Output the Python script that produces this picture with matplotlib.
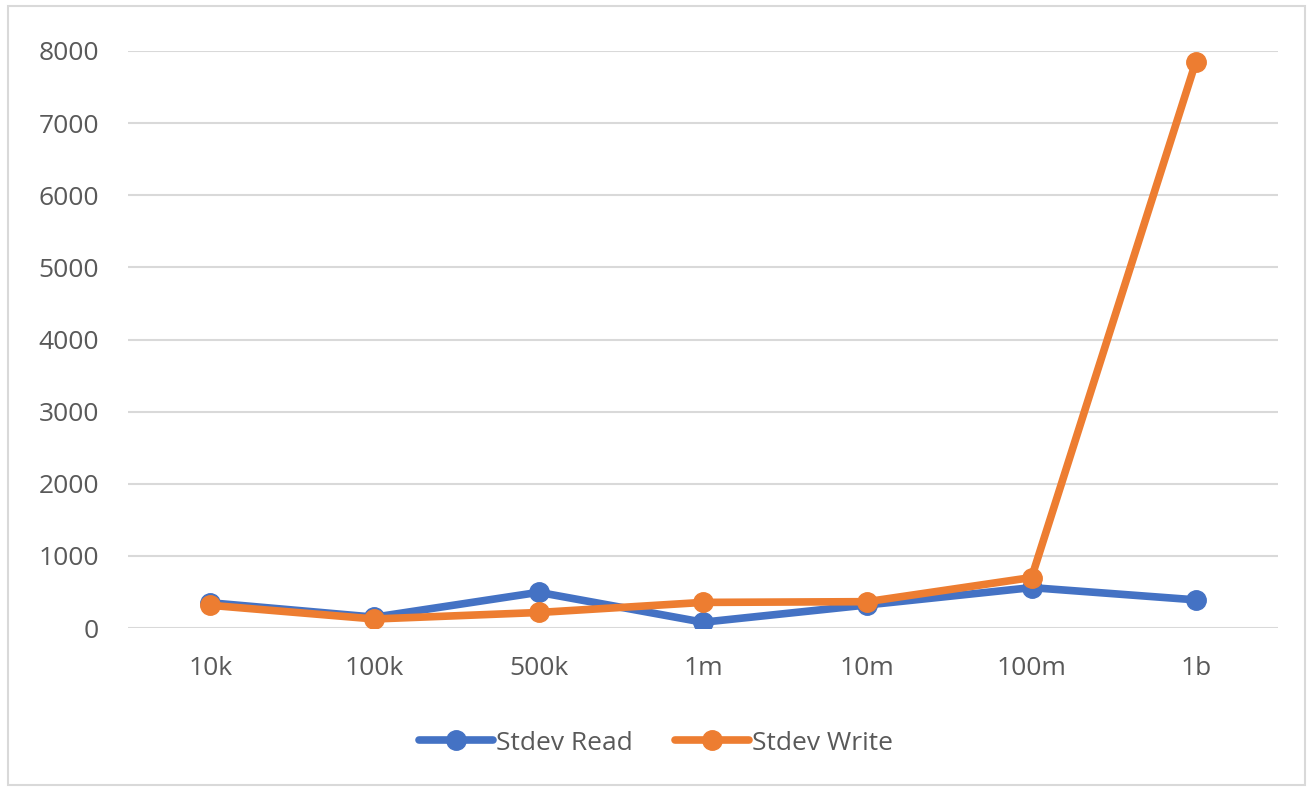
import matplotlib
matplotlib.use("Agg")
import matplotlib.pyplot as plt
from matplotlib.patches import Rectangle

categories = ["10k", "100k", "500k", "1m", "10m", "100m", "1b"]
stdev_read = [350, 150, 495, 80, 320, 560, 390]
stdev_write = [315, 125, 215, 355, 365, 700, 7850]
y_ticks = [0, 1000, 2000, 3000, 4000, 5000, 6000, 7000, 8000]

plt.rcParams["font.family"] = ["Open Sans", "DejaVu Sans"]
text_color = "#595959"
blue = "#4472C4"
orange = "#ED7D31"

W, H = 1312, 791
fig = plt.figure(figsize=(W / 100, H / 100), dpi=100)
fig.patch.set_facecolor("white")

# outer chart border
fig.add_artist(Rectangle((8 / W, 6 / H), (1305 - 8) / W, (785 - 6) / H,
                         transform=fig.transFigure, fill=False,
                         edgecolor="#D9D9D9", linewidth=1.5))

left, right = 128 / W, 1278 / W
top, bottom = 1 - 51 / H, 1 - 628 / H
ax = fig.add_axes([left, bottom, right - left, top - bottom])

x = list(range(len(categories)))
ax.plot(x, stdev_read, color=blue, lw=5.5, marker="o", ms=14,
        solid_capstyle="round", label="Stdev Read", zorder=3)
ax.plot(x, stdev_write, color=orange, lw=5.5, marker="o", ms=14,
        solid_capstyle="round", label="Stdev Write", zorder=4)

ax.set_xlim(-0.5, len(categories) - 0.5)
ax.set_ylim(0, 8000)
ax.set_yticks(y_ticks)
ax.set_xticks(x)
ax.set_xticklabels(categories)
ax.grid(axis="y", color="#D9D9D9", lw=1.5)
ax.set_axisbelow(True)
for s in ax.spines.values():
    s.set_visible(False)
ax.tick_params(length=0, labelsize=19, labelcolor=text_color)
ax.tick_params(axis="y", pad=21)
ax.tick_params(axis="x", pad=20)
for lbl in ax.get_yticklabels():
    lbl.set_clip_on(False)

leg = fig.legend(loc="center", bbox_to_anchor=(0.5, 1 - 743 / H), ncol=2,
                 frameon=False, fontsize=19, handlelength=2.8,
                 handletextpad=0.1, columnspacing=1.6)
for t in leg.get_texts():
    t.set_color(text_color)

fig.savefig("out.png", dpi=100, facecolor="white")
